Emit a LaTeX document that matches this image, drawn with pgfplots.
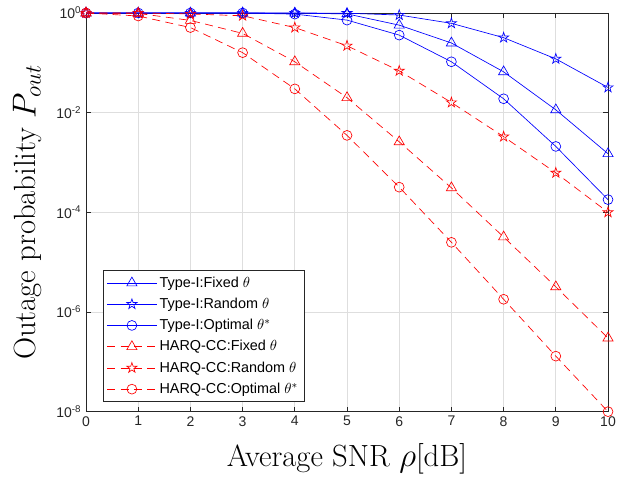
\documentclass[border=0pt]{standalone}
\usepackage{fontspec}
\usepackage{pgfplots}
\pgfplotsset{compat=1.18}
\newfontfamily\arial{Liberation Sans}
\definecolor{mblue}{RGB}{0,0,255}
\definecolor{mred}{RGB}{255,0,0}
\definecolor{axgray}{RGB}{38,38,38}

% MATLAB-like pentagram marker
\pgfdeclareplotmark{pentagram}{%
  \pgfpathmoveto{\pgfpointpolar{90}{\pgfplotmarksize}}%
  \pgfpathlineto{\pgfpointpolar{126}{0.382\pgfplotmarksize}}%
  \pgfpathlineto{\pgfpointpolar{162}{\pgfplotmarksize}}%
  \pgfpathlineto{\pgfpointpolar{198}{0.382\pgfplotmarksize}}%
  \pgfpathlineto{\pgfpointpolar{234}{\pgfplotmarksize}}%
  \pgfpathlineto{\pgfpointpolar{270}{0.382\pgfplotmarksize}}%
  \pgfpathlineto{\pgfpointpolar{306}{\pgfplotmarksize}}%
  \pgfpathlineto{\pgfpointpolar{342}{0.382\pgfplotmarksize}}%
  \pgfpathlineto{\pgfpointpolar{18}{\pgfplotmarksize}}%
  \pgfpathlineto{\pgfpointpolar{54}{0.382\pgfplotmarksize}}%
  \pgfpathclose
  \pgfusepathqstroke
}

\begin{document}
\begin{tikzpicture}
  \begin{axis}[
      name=ax,
      scale only axis,
      width=391.5pt, height=299pt,
      ymode=log,
      xmin=0, xmax=10,
      ymin=1e-8, ymax=1,
      xtick={0,1,2,3,4,5,6,7,8,9,10},
      ytick={1e-8,1e-6,1e-4,1e-2,1},
      yticklabels={10\textsuperscript{-8},10\textsuperscript{-6},10\textsuperscript{-4},10\textsuperscript{-2},10\textsuperscript{0}},
      xticklabel style={font=\arial\fontsize{10.5}{12}\selectfont, text=axgray},
      yticklabel style={font=\arial\fontsize{10.5}{12}\selectfont, text=axgray},
      /pgf/number format/assume math mode=true,
      xlabel={Average SNR $\rho$[dB]},
      ylabel={Outage probability $P_{out}$},
      label style={font=\fontsize{23}{26}\selectfont, text=black},
      xlabel style={yshift=-6pt},
      ylabel style={yshift=4pt},
      xmajorgrids, ymajorgrids, yminorgrids,
      major grid style={color=black!13, line width=0.5pt},
      minor grid style={color=black!22, line width=0.4pt, dotted},
      tick align=inside,
      major tick length=3.8pt,
      minor tick length=2pt,
      tick style={color=axgray, line width=0.5pt},
      axis line style={color=axgray, line width=0.5pt},
      clip=false,
      legend cell align=left,
      legend style={
        font=\arial\fontsize{10.8}{12.5}\selectfont,
        at={(0.033,0.025)}, anchor=south west,
        draw=axgray, line width=0.5pt, fill=white,
        row sep=2.6pt, inner sep=2.5pt,
      },
      legend image code/.code={%
        \draw[mark repeat=2, mark phase=2]
          plot coordinates {(0cm,0cm) (0.65cm,0cm) (1.3cm,0cm)};},
  ]

    % Type-I (solid blue)
    \addplot[mblue, line width=0.5pt, mark=triangle, mark size=4.4pt, mark options={solid}]
      coordinates {(0,1) (1,1) (2,1) (3,1) (4,0.99) (5,0.96) (6,0.57)
                   (7,0.25) (8,0.066) (9,0.0114) (10,0.0015)};
    \addlegendentry{Type-I:Fixed $\theta$}

    \addplot[mblue, line width=0.5pt, mark=pentagram, mark size=4pt, mark options={solid}]
      coordinates {(0,1) (1,1) (2,1) (3,1) (4,1) (5,0.99) (6,0.91)
                   (7,0.62) (8,0.32) (9,0.12) (10,0.032)};
    \addlegendentry{Type-I:Random $\theta$}

    \addplot[mblue, line width=0.5pt, mark=o, mark size=3.7pt, mark options={solid}]
      coordinates {(0,1) (1,1) (2,1) (3,1) (4,0.95) (5,0.72) (6,0.36)
                   (7,0.105) (8,0.019) (9,0.0021) (10,1.8e-4)};
    \addlegendentry{Type-I:Optimal $\theta^{*}$}

    % HARQ-CC (dashed red)
    \addplot[mred, line width=0.5pt, dash pattern=on 6pt off 4pt,
             mark=triangle, mark size=4.4pt, mark options={solid}]
      coordinates {(0,1) (1,0.98) (2,0.71) (3,0.39) (4,0.105) (5,0.020)
                   (6,0.0026) (7,3.1e-4) (8,3.2e-5) (9,3.2e-6) (10,3.0e-7)};
    \addlegendentry{HARQ-CC:Fixed $\theta$}

    \addplot[mred, line width=0.5pt, dash pattern=on 6pt off 4pt,
             mark=pentagram, mark size=4pt, mark options={solid}]
      coordinates {(0,1) (1,1) (2,0.955) (3,0.88) (4,0.51) (5,0.22)
                   (6,0.069) (7,0.016) (8,0.0033) (9,6.2e-4) (10,1.0e-4)};
    \addlegendentry{HARQ-CC:Random $\theta$}

    \addplot[mred, line width=0.5pt, dash pattern=on 6pt off 4pt,
             mark=o, mark size=3.7pt, mark options={solid}]
      coordinates {(0,1) (1,0.87) (2,0.51) (3,0.16) (4,0.030) (5,0.0035)
                   (6,3.2e-4) (7,2.5e-5) (8,1.8e-6) (9,1.3e-7) (10,1.0e-8)};
    \addlegendentry{HARQ-CC:Optimal $\theta^{*}$}

    \coordinate (bbsw) at (rel axis cs:-0.1648,-0.1654);
    \coordinate (bbne) at (rel axis cs:1.0383,1.0326);
  \end{axis}
  \pgfresetboundingbox
  \path (bbsw) rectangle (bbne);
\end{tikzpicture}
\end{document}
